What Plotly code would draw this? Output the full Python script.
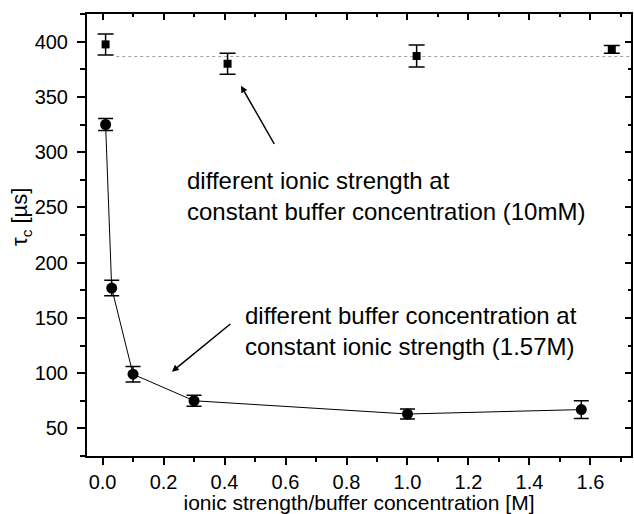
import plotly.graph_objects as go

# ---- data ----
buffer_conc = [0.01, 0.03, 0.1, 0.3, 1.0, 1.57]
buffer_tau = [325, 177, 99, 75, 63, 67]
buffer_err = [5.5, 7, 7, 5, 4.5, 8]

ionic_strength = [0.01, 0.41, 1.03, 1.67]
ionic_tau = [397.5, 380, 387, 393]
ionic_err = [9.5, 9.5, 10, 3.5]

ionic_level = 386.5
level_x = [0.045, 1.733]

x_range = [-0.051, 1.733]
y_range = [25, 425]

x_title = "ionic strength/buffer concentration [M]"
y_title = "τ<sub>c</sub> [µs]"
note_ionic = "different ionic strength at<br>constant buffer concentration (10mM)"
note_buffer = "different buffer concentration at<br>constant ionic strength (1.57M)"

FONT = "Liberation Sans, Arial, sans-serif"

fig = go.Figure()

fig.add_trace(go.Scatter(
    x=level_x, y=[ionic_level, ionic_level], mode="lines",
    line=dict(color="#a0a0a0", width=1, dash="dot"),
    showlegend=False, hoverinfo="skip"))

fig.add_trace(go.Scatter(
    x=buffer_conc, y=buffer_tau, mode="lines+markers",
    line=dict(color="black", width=1),
    marker=dict(symbol="circle", size=11, color="black"),
    error_y=dict(type="data", array=buffer_err, color="black", thickness=1.5, width=7.5),
    showlegend=False))

fig.add_trace(go.Scatter(
    x=ionic_strength, y=ionic_tau, mode="markers",
    marker=dict(symbol="square", size=8, color="black"),
    error_y=dict(type="data", array=ionic_err, color="black", thickness=1.5, width=8),
    showlegend=False))

# invisible trace so that the mirrored top/right axes are drawn
fig.add_trace(go.Scatter(x=[x_range[0]], y=[y_range[0]], xaxis="x2", yaxis="y2",
                         mode="markers", marker=dict(opacity=0), showlegend=False,
                         hoverinfo="skip"))

axis_common = dict(showline=True, linecolor="black", linewidth=2, showgrid=False,
                   zeroline=False, tickcolor="black", tickwidth=1.5, automargin=False)

fig.update_layout(
    width=634, height=514,
    margin=dict(l=87, r=3, t=14, b=58),
    paper_bgcolor="white", plot_bgcolor="white",
    font=dict(family=FONT, color="black"),
    xaxis=dict(range=x_range, dtick=0.2, tick0=0, tickformat=".1f",
               ticks="outside", ticklen=7,
               minor=dict(dtick=0.1, tick0=0, ticks="outside", ticklen=4,
                          tickcolor="black", tickwidth=1.5),
               tickfont=dict(size=20, family=FONT),
               title=dict(text=x_title, font=dict(size=21, family=FONT), standoff=10),
               **axis_common),
    yaxis=dict(range=y_range, dtick=50, tick0=0,
               ticks="outside", ticklen=8,
               minor=dict(dtick=25, tick0=0, ticks="outside", ticklen=5,
                          tickcolor="black", tickwidth=1.5),
               tickfont=dict(size=20, family=FONT), ticklabelstandoff=5,
               **axis_common),
    xaxis2=dict(overlaying="x", side="top", range=x_range, dtick=0.2, tick0=0,
                ticks="inside", ticklen=6, showticklabels=False,
                minor=dict(dtick=0.1, tick0=0, ticks="inside", ticklen=3,
                           tickcolor="black", tickwidth=1.5),
                anchor="y2", **axis_common),
    yaxis2=dict(overlaying="y", side="right", range=y_range, dtick=50, tick0=0,
                ticks="inside", ticklen=6, showticklabels=False,
                minor=dict(dtick=25, tick0=0, ticks="inside", ticklen=3,
                           tickcolor="black", tickwidth=1.5),
                anchor="x2", **axis_common),
)

ann_font = dict(size=24, family=FONT, color="black")
fig.add_annotation(x=0.271, y=260, xref="x", yref="y", text=note_ionic,
                   showarrow=False, xanchor="left", yanchor="middle", align="left",
                   font=ann_font)
fig.add_annotation(x=0.461, y=138.5, xref="x", yref="y", text=note_buffer,
                   showarrow=False, xanchor="left", yanchor="middle", align="left",
                   font=ann_font)
# arrows
fig.add_annotation(x=0.454, y=360, ax=0.566, ay=306, xref="x", yref="y",
                   axref="x", ayref="y", text="", showarrow=True,
                   arrowhead=2, arrowsize=0.9, arrowwidth=1.5, arrowcolor="black")
fig.add_annotation(x=0.2275, y=101.3, ax=0.424, ay=145.6, xref="x", yref="y",
                   axref="x", ayref="y", text="", showarrow=True,
                   arrowhead=2, arrowsize=0.9, arrowwidth=1.5, arrowcolor="black")
# y axis title
fig.add_annotation(x=-0.12, y=0.54, xref="paper", yref="paper", text=y_title,
                   showarrow=False, textangle=-90, xanchor="center", yanchor="middle",
                   font=dict(size=22, family=FONT, color="black"))

fig.write_html("out.html", config={"displayModeBar": False},
               post_script="document.body.style.margin='0';document.body.style.overflow='hidden';")
